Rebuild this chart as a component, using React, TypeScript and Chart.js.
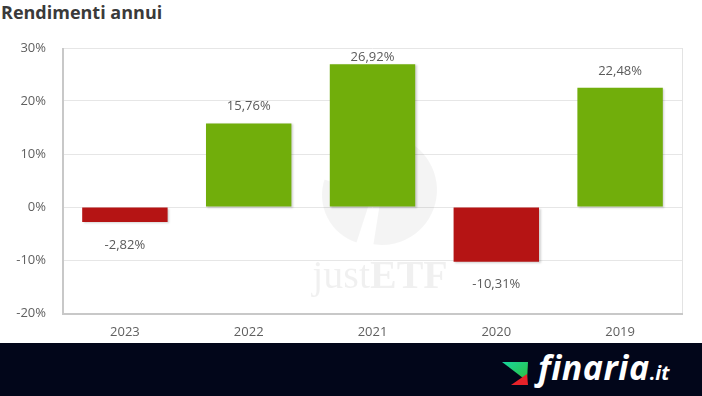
import React, { useEffect, useRef } from "react";
import { Chart, registerables } from "chart.js";
Chart.register(...registerables);

const years = ["2023", "2022", "2021", "2020", "2019"];
const returns = [-2.82, 15.76, 26.92, -10.31, 22.48];
const yMin = -20;
const yMax = 30;
const yStep = 10;

const GREEN = "#71ae0b";
const RED = "#b51414";

const fmt = (v: number) => v.toFixed(2).replace(".", ",") + "%";

const watermarkPlugin = {
  id: "watermark",
  beforeDatasetsDraw(chart: any) {
    const { ctx } = chart;
    ctx.save();
    ctx.fillStyle = "rgba(0,0,0,0.045)";
    ctx.beginPath();
    ctx.moveTo(382, 190);
    ctx.arc(382, 190, 55, -Math.PI * 0.45, Math.PI * 0.55);
    ctx.closePath();
    ctx.fill();
    ctx.beginPath();
    ctx.moveTo(372, 195);
    ctx.arc(372, 195, 50, Math.PI * 0.6, Math.PI * 1.1);
    ctx.closePath();
    ctx.fill();
    ctx.fillStyle = "rgba(0,0,0,0.06)";
    ctx.textBaseline = "alphabetic";
    ctx.textAlign = "left";
    const f1 = "40px 'Liberation Serif', serif";
    const f2 = "bold 40px 'Liberation Serif', serif";
    ctx.font = f1;
    const w1 = ctx.measureText("just").width;
    ctx.font = f2;
    const w2 = ctx.measureText("ETF").width;
    const x0 = 380 - (w1 + w2) / 2;
    ctx.font = f1;
    ctx.fillText("just", x0, 288);
    ctx.font = f2;
    ctx.fillText("ETF", x0 + w1, 288);
    ctx.restore();
  },
};

const framePlugin = {
  id: "frame",
  afterDraw(chart: any) {
    const { ctx, chartArea: a } = chart;
    ctx.save();
    ctx.strokeStyle = "#e3e3e3";
    ctx.lineWidth = 1;
    ctx.beginPath();
    ctx.moveTo(a.right + 0.5, a.top);
    ctx.lineTo(a.right + 0.5, a.bottom);
    ctx.stroke();
    ctx.strokeStyle = "#c8c8c8";
    ctx.lineWidth = 2;
    ctx.beginPath();
    ctx.moveTo(a.left, a.top);
    ctx.lineTo(a.left, a.bottom + 1);
    ctx.lineTo(a.right + 1, a.bottom + 1);
    ctx.stroke();
    ctx.restore();
  },
};

const shadowPlugin = {
  id: "barShadow",
  beforeDatasetDraw(chart: any) {
    const ctx = chart.ctx;
    ctx.save();
    ctx.shadowColor = "rgba(0,0,0,0.18)";
    ctx.shadowOffsetX = 1.5;
    ctx.shadowOffsetY = 1;
    ctx.shadowBlur = 2;
  },
  afterDatasetDraw(chart: any) {
    chart.ctx.restore();
  },
};

const labelPlugin = {
  id: "valueLabels",
  afterDatasetsDraw(chart: any) {
    const { ctx, chartArea: a } = chart;
    const meta = chart.getDatasetMeta(0);
    ctx.save();
    ctx.font = "13px 'Open Sans', sans-serif";
    ctx.fillStyle = "#5a5a5a";
    ctx.textAlign = "center";
    ctx.textBaseline = "middle";
    meta.data.forEach((bar: any, i: number) => {
      const v = returns[i];
      let y: number;
      if (v >= 0) {
        y = Math.max(bar.y - 17, a.top + 9);
      } else {
        y = bar.y + 23;
      }
      ctx.fillText(fmt(v), bar.x, y);
    });
    ctx.restore();
  },
};

export default function App() {
  const ref = useRef<HTMLCanvasElement>(null);
  useEffect(() => {
    if (!ref.current) return;
    const chart = new Chart(ref.current, {
      type: "bar",
      data: {
        labels: years,
        datasets: [
          {
            data: returns,
            backgroundColor: returns.map((v) => (v >= 0 ? GREEN : RED)),
            borderWidth: 0,
            barPercentage: 0.69,
            categoryPercentage: 1,
          },
        ],
      },
      options: {
        responsive: false,
        animation: false,
        devicePixelRatio: 1,
        layout: { padding: { top: 48, right: 20, left: 0, bottom: 0 } },
        plugins: {
          legend: { display: false },
          tooltip: { enabled: false },
        },
        scales: {
          x: {
            grid: { display: false, drawTicks: false },
            border: { display: false },
            ticks: {
              color: "#606060",
              font: { family: "'Open Sans', sans-serif", size: 13 },
              padding: 11,
            },
            afterFit: (s: any) => {
              s.height = 30;
            },
          },
          y: {
            min: yMin,
            max: yMax,
            grid: { color: "#e6e6e6", drawTicks: false },
            border: { display: false },
            ticks: {
              stepSize: yStep,
              color: "#606060",
              font: { family: "'Open Sans', sans-serif", size: 13 },
              padding: 17,
              callback: (v: any) => v + "%",
            },
            afterFit: (s: any) => {
              s.width = 63;
            },
          },
        },
      },
      plugins: [watermarkPlugin, shadowPlugin, labelPlugin, framePlugin],
    } as any);
    return () => chart.destroy();
  }, []);

  return (
    <div
      style={{
        position: "absolute",
        left: 0,
        top: 0,
        width: 702,
        height: 396,
        background: "#fff",
        overflow: "hidden",
      }}
    >
      <div
        style={{
          position: "absolute",
          left: 1,
          top: 0,
          fontFamily: "'Open Sans', sans-serif",
          fontWeight: 700,
          fontSize: 18,
          lineHeight: "24px",
          color: "#3a3a3a",
        }}
      >
        Rendimenti annui
      </div>
      <canvas
        ref={ref}
        width={702}
        height={343}
        style={{ position: "absolute", left: 0, top: 0, width: 702, height: 343 }}
      />
      <div
        style={{
          position: "absolute",
          left: 0,
          top: 343,
          width: 702,
          height: 53,
          background: "#02061a",
        }}
      >
        <svg
          width={702}
          height={53}
          style={{ position: "absolute", left: 0, top: 0 }}
        >
          <defs>
            <linearGradient id="g1" x1="0" y1="0" x2="1" y2="1">
              <stop offset="0" stopColor="#17d6a0" />
              <stop offset="1" stopColor="#2fbf3a" />
            </linearGradient>
          </defs>
          <polygon points="502,19 528,19 527,38" fill="url(#g1)" />
          <polygon points="511,42 528,42 527,31" fill="#e8232a" />
        </svg>
        <div
          style={{
            position: "absolute",
            left: 538,
            top: 5,
            fontFamily: "'Open Sans', sans-serif",
            fontWeight: 700,
            fontStyle: "italic",
            fontSize: 34,
            lineHeight: "38px",
            color: "#fff",
            letterSpacing: 0.5,
            whiteSpace: "nowrap",
          }}
        >
          finaria<span style={{ fontSize: 20, letterSpacing: 0 }}>.it</span>
        </div>
      </div>
    </div>
  );
}
